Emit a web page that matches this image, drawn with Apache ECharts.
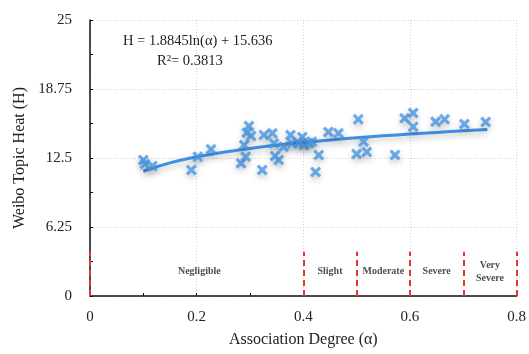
<!DOCTYPE html>
<html><head><meta charset="utf-8">
<script src="https://cdn.jsdelivr.net/npm/echarts@6/dist/echarts.min.js"></script>
<style>html,body{margin:0;padding:0;background:#fff}#c{width:529px;height:354px}</style>
</head><body><div id="c"></div>
<script>
// Scatter data
const alphaVals = [0.10,0.103,0.117,0.19,0.202,0.227,0.283,0.292,0.289,0.298,0.294,0.302,0.323,0.326,0.342,0.345,0.347,0.354,0.363,0.376,0.379,0.398,0.391,0.401,0.41,0.416,0.423,0.429,0.447,0.466,0.503,0.513,0.50,0.519,0.572,0.59,0.606,0.606,0.648,0.665,0.702,0.742];
const heatVals  = [12.32,11.96,11.78,11.41,12.62,13.29,12.02,12.62,13.68,15.40,14.79,14.50,11.41,14.58,14.74,13.83,12.68,12.32,13.52,14.58,13.83,14.40,13.83,13.68,13.83,13.98,11.23,12.77,14.86,14.74,16.00,13.98,12.86,13.04,12.77,16.10,16.58,15.33,15.79,16.00,15.58,15.76];
// Fitted trend curve
const trendAlpha = [0.10,0.15,0.20,0.25,0.30,0.35,0.40,0.45,0.50,0.55,0.60,0.65,0.70,0.745];
const trendHeat  = [11.30,12.06,12.60,13.02,13.37,13.66,13.91,14.13,14.33,14.51,14.67,14.82,14.96,15.08];
// Impact zones
const zoneBounds = [0,0.4,0.5,0.6,0.7,0.8];
const zoneCenters = [0.205,0.45,0.55,0.65,0.75];
const zoneNames = ['Negligible','Slight','Moderate','Severe','Very\nSevere'];
const zoneLineTop = 4;
const zoneLabelY = 2.2;
const xTicks = [0,0.2,0.4,0.6,0.8];
const yTicks = [0,6.25,12.5,18.75,25];
const equationText = 'H = 1.8845ln(\u03b1) + 15.636';
const r2Text = '0.3813';

const serif = '"Liberation Serif", "DejaVu Serif", serif';
const blue = '#4596e6';
const chart = echarts.init(document.getElementById('c'));
const pts = alphaVals.map((a,i)=>[a,heatVals[i]]);
const trend = trendAlpha.map((a,i)=>[a,trendHeat[i]]);
const xSymbol = 'path://M2,0 L5,3 L8,0 L10,2 L7,5 L10,8 L8,10 L5,7 L2,10 L0,8 L3,5 L0,2 Z';

chart.setOption({
  animation:false,
  backgroundColor:'#fff',
  grid:{left:90,right:11,top:20,bottom:58},
  xAxis:{
    type:'value',min:0,max:0.8,interval:0.2,
    name:'Association Degree (\u03b1)',nameLocation:'middle',nameGap:36,
    nameTextStyle:{fontFamily:serif,fontSize:16,color:'#222'},
    axisLine:{lineStyle:{color:'#111',width:1.5}},
    axisTick:{inside:true,length:3,lineStyle:{color:'#111'}},
    minorTick:{show:true,splitNumber:2,length:3,lineStyle:{color:'#111'}},
    axisLabel:{fontFamily:serif,fontSize:15,color:'#222',margin:14,
      formatter:v=>{const t=xTicks.find(x=>Math.abs(x-v)<1e-9);return t===undefined?'':String(t);}},
    splitLine:{show:true,lineStyle:{color:'#cfcfcf',type:[1,2],width:1}}
  },
  yAxis:{
    type:'value',min:0,max:25,interval:6.25,
    name:'Weibo Topic Heat (H)',nameLocation:'middle',nameGap:62,
    nameTextStyle:{fontFamily:serif,fontSize:16,color:'#222'},
    axisLine:{show:true,lineStyle:{color:'#111',width:1.5}},
    axisTick:{show:true,inside:true,length:3,lineStyle:{color:'#111'}},
    minorTick:{show:true,splitNumber:2,length:3,lineStyle:{color:'#111'}},
    axisLabel:{fontFamily:serif,fontSize:15,color:'#222',margin:18,
      formatter:v=>{const t=yTicks.find(y=>Math.abs(y-v)<1e-9);return t===undefined?'':String(t);}},
    splitLine:{show:true,lineStyle:{color:'#cfcfcf',type:[1,2],width:1}}
  },
  graphic:[
    {type:'text',left:123,top:34,style:{text:equationText,font:'14.5px '+serif,fill:'#222'}},
    {type:'text',left:157,top:54,style:{text:'R\u00b2= '+r2Text,font:'14.5px '+serif,fill:'#222'}}
  ],
  series:[
    {
      type:'scatter',data:zoneCenters.map((a,i)=>({value:[a,zoneLabelY],name:zoneNames[i]})),
      symbolSize:0,silent:true,
      label:{show:true,position:'inside',formatter:p=>p.name,fontFamily:serif,fontWeight:'bold',fontSize:10,color:'#222',lineHeight:13},
      markLine:{silent:true,symbol:'none',label:{show:false},
        lineStyle:{color:'#e8352c',type:[6,4],width:2},
        data:zoneBounds.map(b=>[{coord:[b,0]},{coord:[b,zoneLineTop]}])}
    },
    {
      type:'line',data:trend,smooth:true,showSymbol:false,z:3,
      lineStyle:{color:'#3f90e2',width:3,shadowBlur:6,shadowColor:'rgba(0,0,0,0.25)',shadowOffsetY:3}
    },
    {
      type:'scatter',data:pts,symbol:xSymbol,symbolSize:11,z:4,
      itemStyle:{color:blue,shadowBlur:6,shadowColor:'rgba(0,0,0,0.3)',shadowOffsetY:3}
    }
  ]
});
</script></body></html>
